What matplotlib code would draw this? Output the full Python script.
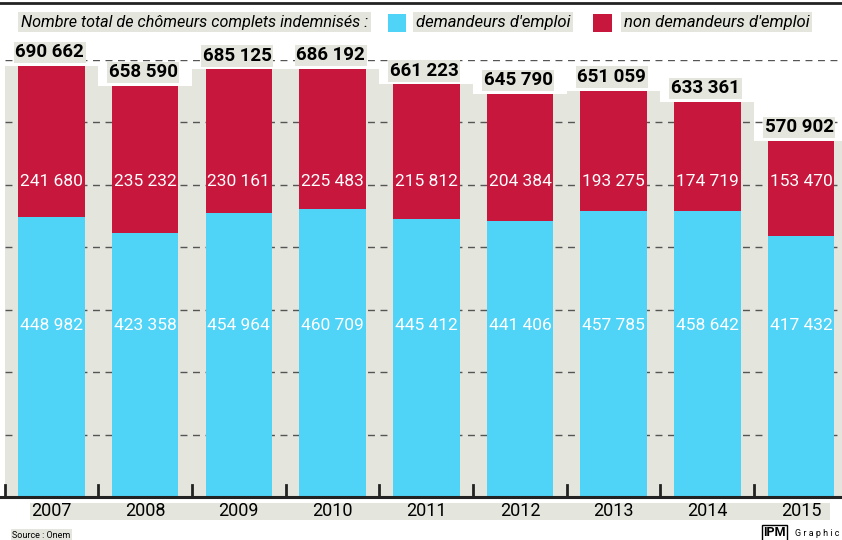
import matplotlib
matplotlib.use("Agg")
import matplotlib.pyplot as plt
from matplotlib.patches import Rectangle

years = ["2007", "2008", "2009", "2010", "2011", "2012", "2013", "2014", "2015"]
demandeurs = [448982, 423358, 454964, 460709, 445412, 441406, 457785, 458642, 417432]
non_demandeurs = [241680, 235232, 230161, 225483, 215812, 204384, 193275, 174719, 153470]
totals = [690662, 658590, 685125, 686192, 661223, 645790, 651059, 633361, 570902]

BLUE = "#4fd3f7"
RED = "#c8173d"
GRAY = "#e4e5dc"
COND = ["Roboto", "DejaVu Sans"]


def fmt(v):
    return f"{v:,}".replace(",", " ")


W, H = 842, 540
fig = plt.figure(figsize=(W / 100, H / 100), dpi=100)

# axes placed in pixel terms: baseline at y=497, 700 000 at y=60
left_px, base_px, top_px = 4.6, 497, 60
ax = fig.add_axes([left_px / W, (H - base_px) / H, (W - left_px) / W, (base_px - top_px) / H])
step = 93.7
ax.set_xlim(-0.5, -0.5 + (W - left_px) / step)
ax.set_ylim(0, 700000)
ax.axis("off")

x = list(range(len(years)))

# grey column backgrounds
for i, t in enumerate(totals):
    ax.add_patch(Rectangle((i - 0.5, 0), 1.0, t, facecolor=GRAY, edgecolor="none", zorder=0))

# dashed grid
for g in range(100000, 700001, 100000):
    ax.axhline(g, color="#555555", lw=1, ls=(0, (5, 4)), zorder=1)

ax.bar(x, demandeurs, width=0.71, color=BLUE, zorder=2)
ax.bar(x, non_demandeurs, bottom=demandeurs, width=0.71, color=RED, zorder=2)

for i in x:
    ax.text(i, 275000, fmt(demandeurs[i]), ha="center", va="center", color="white",
            fontsize=12.5, family=COND, zorder=3)
    ax.text(i, 505000, fmt(non_demandeurs[i]), ha="center", va="center", color="white",
            fontsize=12.5, family=COND, zorder=3)
    ax.text(i - 0.02, totals[i] + 7000, fmt(totals[i]), ha="center", va="bottom", color="black",
            fontsize=13.5, fontweight="bold", family=COND, zorder=3, clip_on=False,
            bbox=dict(facecolor=GRAY, edgecolor="none", pad=1.2))

# base axis with separator ticks
ax.plot([-0.55, 8.6], [0, 0], color="#222222", lw=2.2, clip_on=False, zorder=4)
for i in range(len(years)):
    sep = i - 0.5
    ax.plot([sep, sep], [0, 19000], color="#222222", lw=2, clip_on=False, zorder=4)

# year labels on a grey band
fig.patches.append(Rectangle((30 / W, (H - 520) / H), 800 / W, 17 / H, transform=fig.transFigure,
                             facecolor=GRAY, edgecolor="none", zorder=0))
for i, y in enumerate(years):
    xf = (left_px + (i + 0.5) * step) / W
    fig.text(xf, (H - 511) / H, y, ha="center", va="center", fontsize=13, family=COND)

# legend line
fig.add_artist(plt.Line2D([0, 1], [(H - 3) / H, (H - 3) / H], color="#222222", lw=2))
fig.text(21 / W, (H - 22) / H, "Nombre total de chômeurs complets indemnisés :", ha="left",
         va="center", fontsize=11.6, style="italic", family=COND,
         bbox=dict(facecolor=GRAY, edgecolor="none", pad=2))
fig.patches.append(Rectangle((388 / W, (H - 32) / H), 18 / W, 18 / H, transform=fig.transFigure,
                             facecolor=BLUE, edgecolor="none"))
fig.text(416 / W, (H - 22) / H, "demandeurs d'emploi", ha="left", va="center", fontsize=12,
         style="italic", family=COND, bbox=dict(facecolor=GRAY, edgecolor="none", pad=2))
fig.patches.append(Rectangle((593 / W, (H - 32) / H), 19 / W, 18 / H, transform=fig.transFigure,
                             facecolor=RED, edgecolor="none"))
fig.text(624 / W, (H - 22) / H, "non demandeurs d'emploi", ha="left", va="center", fontsize=12,
         style="italic", family=COND, bbox=dict(facecolor=GRAY, edgecolor="none", pad=2))

# footer
fig.text(12 / W, (H - 535) / H, "Source : Onem", ha="left", va="center", fontsize=6.5, family=COND,
         bbox=dict(facecolor=GRAY, edgecolor="none", pad=1))
fig.text(763 / W, (H - 533) / H, "IPM", ha="left", va="center", fontsize=9, fontweight="bold",
         family=COND, bbox=dict(facecolor="white", edgecolor="black", pad=0.8, lw=1))
fig.text(795 / W, (H - 533) / H, "G r a p h i c", ha="left", va="center", fontsize=6.5, family=COND)

fig.savefig("out.png", dpi=100)
